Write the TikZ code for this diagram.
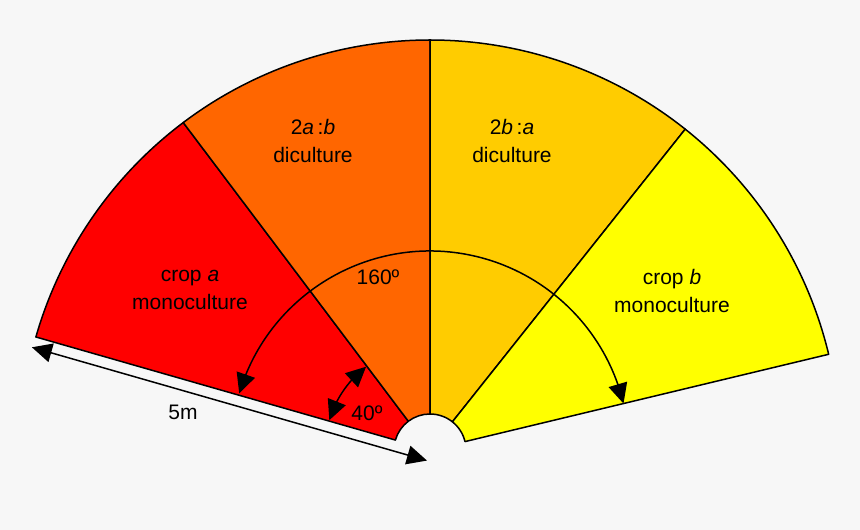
\documentclass[tikz,border=0pt]{standalone}
\usepackage{fontspec}
\setmainfont{Liberation Sans}
\usetikzlibrary{arrows.meta,calc,bending}
\definecolor{bg}{HTML}{F7F7F7}
\definecolor{cred}{HTML}{FF0000}
\definecolor{corange}{HTML}{FF6600}
\definecolor{cgold}{HTML}{FFCC00}
\definecolor{cyellow}{HTML}{FFFF00}
\tikzset{
  lbl/.style={font=\fontsize{21}{28}\selectfont, align=center, text=black, inner sep=0pt},
  wedge/.style={draw=black, line width=1.5pt, line join=round},
  dimarrow/.style={line width=1.5pt, {Triangle[length=20pt,width=19pt]}-{Triangle[length=20pt,width=19pt]}}
}
\begin{document}
\begin{tikzpicture}[x=1pt,y=1pt]
\useasboundingbox (0,0) rectangle (860,530);
\fill[bg] (0,0) rectangle (860,530);
\coordinate (C) at (430,80);
\foreach \a/\b/\c in {164/127/cred, 127/90/corange, 90/51.5/cgold, 51.5/13.5/cyellow}{
  \filldraw[wedge, fill=\c] ($(C)+(\a:36)$) -- ($(C)+(\a:410)$) arc[start angle=\a, end angle=\b, radius=410] -- ($(C)+(\b:36)$) arc[start angle=\b, end angle=\a, radius=36] -- cycle;
}
% 160 degree arc
\draw[dimarrow] ($(C)+(163.5:199)$) arc[start angle=163.5, end angle=13.5, radius=199];
% 40 degree arc
\draw[dimarrow] ($(C)+(127.5:105)$) arc[start angle=127.5, end angle=163.5, radius=105];
% 5m dimension
\coordinate (d1) at ($(C)+(254:11)$);
\coordinate (d2) at ($(C)+(254:11)+(164:411)$);
\draw[dimarrow] (d1) -- (d2);
% labels
\node[lbl] (ta) at (190,240) {crop \textit{a}\\monoculture};
\node[lbl] (tab) at (313,389) {2\textit{a}\,:\textit{b}\\diculture};
\node[lbl] (tba) at (512,389) {2\textit{b}\,:\textit{a}\\diculture};
\node[lbl] (tb) at (672,239) {crop \textit{b}\\monoculture};
\node[lbl] (t160) at (378,253) {160º};
\node[lbl] (t40) at (367,117) {40º};
\node[lbl] (t5m) at (183,118) {5m};
\end{tikzpicture}
\end{document}
